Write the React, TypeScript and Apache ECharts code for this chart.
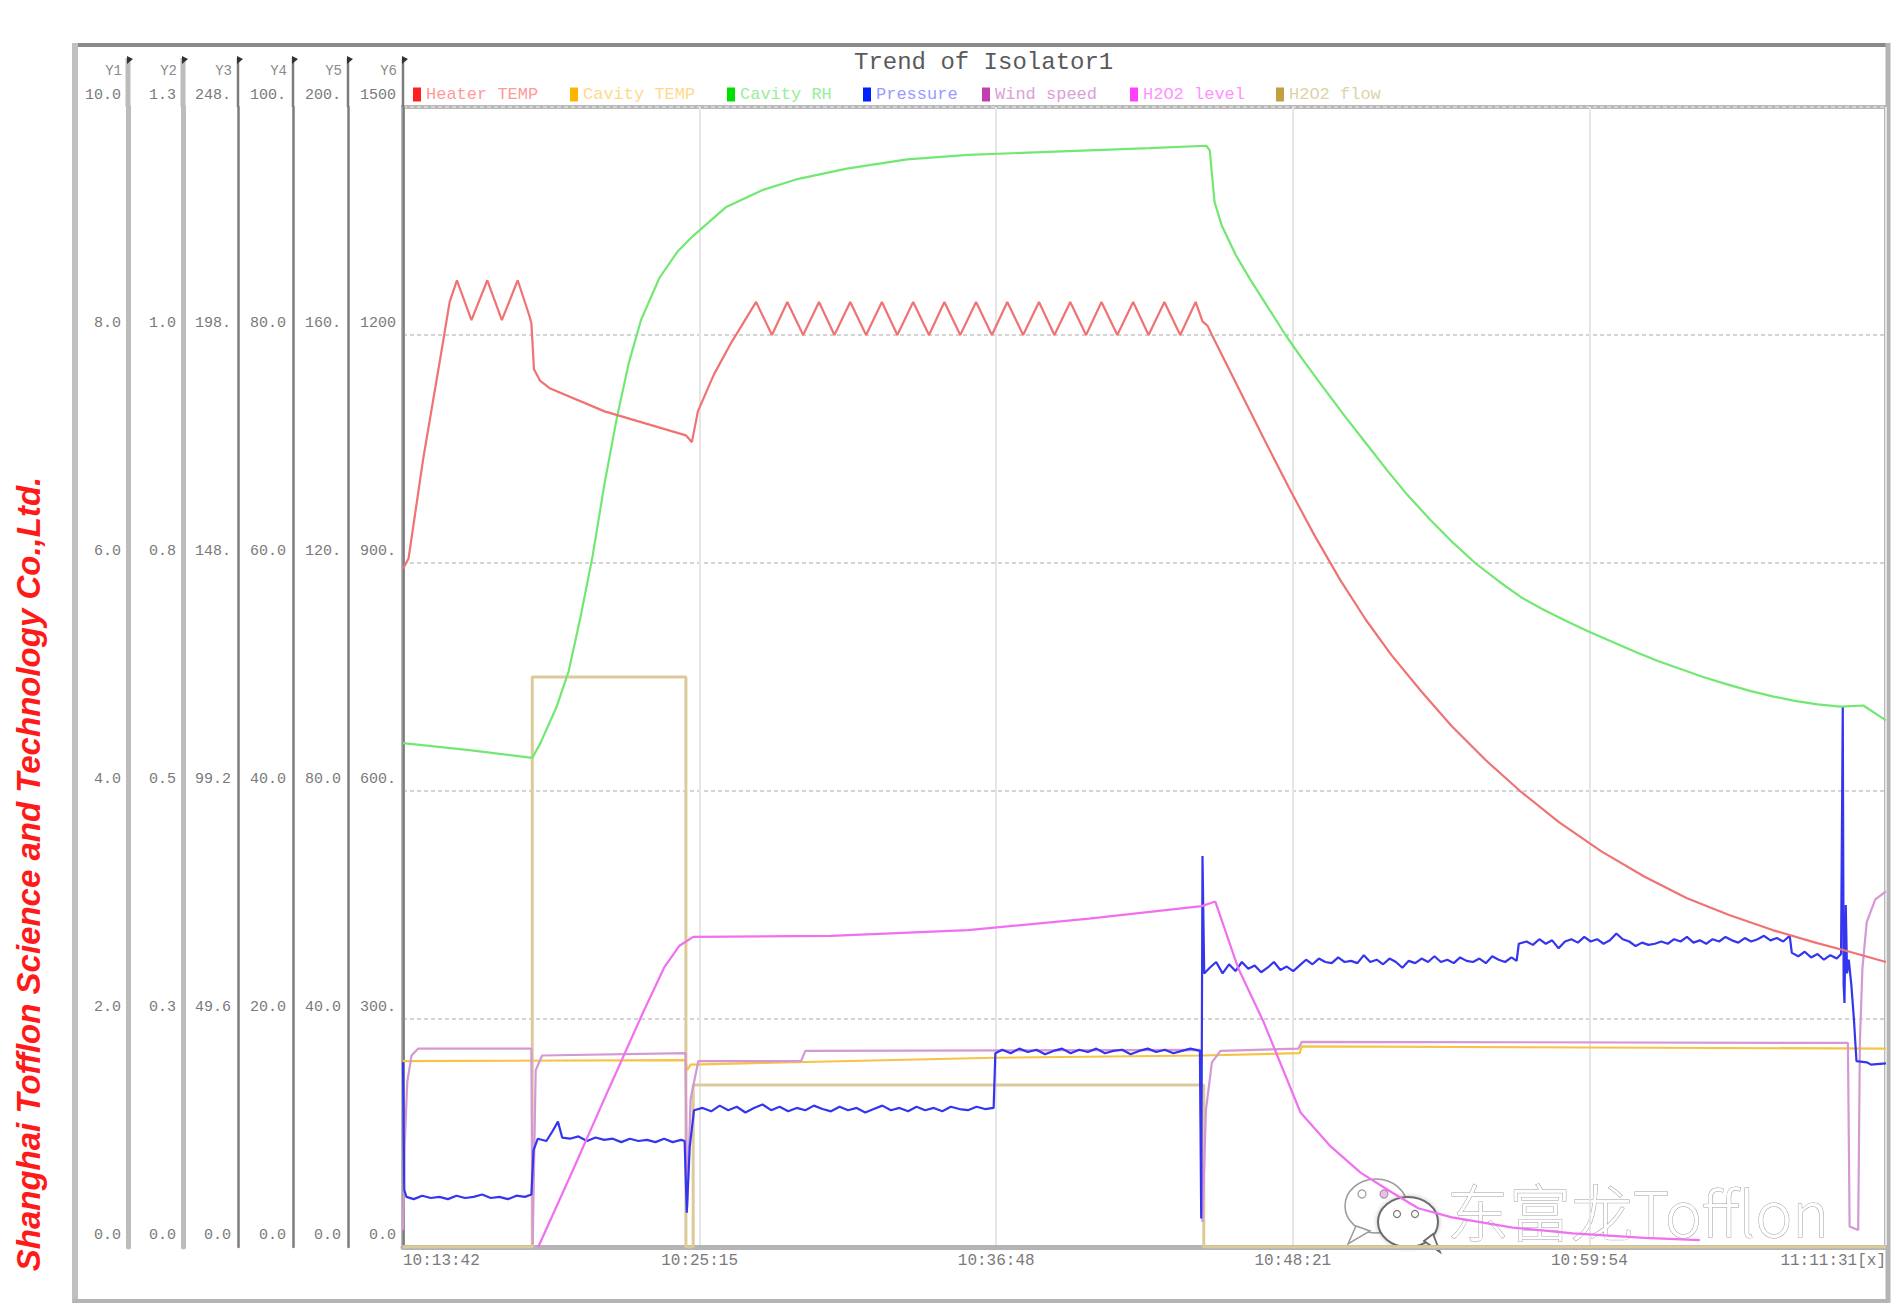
import React, { useEffect, useRef } from "react";
import * as echarts from "echarts";

// ---- axis definitions ----
const xLabels = ["10:13:42", "10:25:15", "10:36:48", "10:48:21", "10:59:54", "11:11:31[x]"];
const xStep = 693; // seconds between labels
const xMax = 3465;

const yNames = ["Y1", "Y2", "Y3", "Y4", "Y5", "Y6"];
const yMax = [10, 1.25, 248, 100, 200, 1500];
const yLabels = [
  ["0.0", "2.0", "4.0", "6.0", "8.0", "10.0"],
  ["0.0", "0.3", "0.5", "0.8", "1.0", "1.3"],
  ["0.0", "49.6", "99.2", "148.", "198.", "248."],
  ["0.0", "20.0", "40.0", "60.0", "80.0", "100."],
  ["0.0", "40.0", "80.0", "120.", "160.", "200."],
  ["0.0", "300.", "600.", "900.", "1200", "1500"],
];

// ---- series (time in s from 10:13:42, value in Y1 units) ----
const heaterTemp: [number, number][] = [
  [0, 5.95], [13, 6.04], [47, 6.91], [90, 7.86], [109, 8.29], [126, 8.48], [160, 8.13], [197, 8.48], [231, 8.13],
  [268, 8.48], [296, 8.16], [300, 8.1], [306, 7.7], [320, 7.6], [344, 7.53], [471, 7.33], [661, 7.12], [675, 7.06],
  [689, 7.33], [726, 7.65], [768, 7.94], [791, 8.08], [825, 8.29], [862, 8.0], [898, 8.29], [935, 8.0], [972, 8.29],
  [1008, 8.0], [1045, 8.29], [1082, 8.0], [1119, 8.29], [1155, 8.0], [1192, 8.29], [1229, 8.0], [1265, 8.29],
  [1302, 8.0], [1339, 8.29], [1376, 8.0], [1412, 8.29], [1449, 8.0], [1486, 8.29], [1522, 8.0], [1559, 8.29],
  [1596, 8.0], [1632, 8.29], [1669, 8.0], [1706, 8.29], [1742, 8.0], [1779, 8.29], [1816, 8.0], [1852, 8.29],
  [1868, 8.12], [1880, 8.08], [1890, 8.0], [1950, 7.55], [2010, 7.1], [2070, 6.66], [2130, 6.24], [2190, 5.85],
  [2250, 5.5], [2310, 5.19], [2380, 4.87], [2450, 4.57], [2530, 4.27], [2610, 4.0], [2700, 3.73], [2800, 3.47],
  [2900, 3.25], [3000, 3.06], [3100, 2.91], [3200, 2.78], [3300, 2.67], [3380, 2.59], [3465, 2.5],
];

const cavityTemp: [number, number][] = [
  [0, 1.63], [660, 1.64], [664, 1.55], [672, 1.6], [1382, 1.66], [1866, 1.68], [2095, 1.7], [2100, 1.76], [3465, 1.74],
];

const cavityRH: [number, number][] = [
  [0, 4.42], [150, 4.36], [302, 4.29], [321, 4.42], [358, 4.73], [387, 5.05], [415, 5.53], [443, 6.06], [471, 6.7],
  [500, 7.28], [528, 7.76], [556, 8.13], [599, 8.5], [641, 8.73], [678, 8.87], [754, 9.12], [839, 9.27], [924, 9.37],
  [1037, 9.46], [1178, 9.54], [1320, 9.58], [1461, 9.6], [1603, 9.62], [1744, 9.64], [1877, 9.66], [1885, 9.62],
  [1896, 9.17], [1913, 8.96], [1946, 8.7], [1979, 8.49], [2018, 8.26], [2062, 8.0], [2101, 7.79], [2150, 7.54],
  [2200, 7.29], [2250, 7.05], [2300, 6.81], [2346, 6.6], [2400, 6.38], [2450, 6.19], [2505, 6.0], [2560, 5.84],
  [2612, 5.7], [2665, 5.59], [2719, 5.49], [2770, 5.4], [2825, 5.31], [2880, 5.22], [2932, 5.14], [2985, 5.07],
  [3038, 5.0], [3090, 4.94], [3145, 4.88], [3200, 4.83], [3252, 4.79], [3305, 4.76], [3358, 4.74], [3412, 4.75],
  [3465, 4.62],
];

const pressure: [number, number][] = [
  [0, 1.62], [3, 0.5], [8, 0.44], [25, 0.42], [45, 0.45], [65, 0.43], [85, 0.44], [105, 0.42], [125, 0.45],
  [145, 0.43], [165, 0.44], [185, 0.46], [205, 0.43], [225, 0.44], [245, 0.42], [265, 0.45], [285, 0.44], [300, 0.46],
  [305, 0.85], [315, 0.95], [335, 0.93], [350, 1.02], [362, 1.1], [372, 0.96], [390, 0.95], [410, 0.97], [430, 0.93],
  [450, 0.96], [470, 0.94], [490, 0.95], [510, 0.92], [530, 0.95], [550, 0.93], [570, 0.94], [590, 0.92], [610, 0.95],
  [630, 0.92], [650, 0.94], [658, 0.93], [663, 0.3], [670, 0.88], [680, 1.2], [700, 1.22], [720, 1.19], [740, 1.24],
  [760, 1.2], [780, 1.23], [800, 1.18], [820, 1.22], [840, 1.25], [860, 1.2], [880, 1.23], [900, 1.19], [920, 1.22],
  [940, 1.2], [960, 1.24], [980, 1.21], [1000, 1.19], [1020, 1.23], [1040, 1.2], [1060, 1.22], [1080, 1.18],
  [1100, 1.21], [1120, 1.24], [1140, 1.2], [1160, 1.22], [1180, 1.19], [1200, 1.23], [1220, 1.2], [1240, 1.22],
  [1260, 1.19], [1280, 1.23], [1300, 1.21], [1320, 1.2], [1340, 1.23], [1360, 1.21], [1380, 1.22],
  [1384, 1.7], [1400, 1.73], [1420, 1.7], [1440, 1.74], [1460, 1.71], [1480, 1.73], [1500, 1.69], [1520, 1.72],
  [1540, 1.74], [1560, 1.7], [1580, 1.73], [1600, 1.71], [1620, 1.74], [1640, 1.7], [1660, 1.72], [1680, 1.73],
  [1700, 1.69], [1720, 1.72], [1740, 1.74], [1760, 1.71], [1780, 1.73], [1800, 1.7], [1820, 1.72], [1840, 1.74],
  [1862, 1.72], [1865, 0.25], [1868, 3.43], [1872, 2.4], [1885, 2.45], [1900, 2.5], [1915, 2.4], [1930, 2.48],
  [1945, 2.42], [1960, 2.5], [1975, 2.44], [1990, 2.47], [2005, 2.41], [2020, 2.45], [2035, 2.5], [2050, 2.43],
  [2065, 2.46], [2080, 2.42], [2095, 2.47], [2110, 2.52], [2125, 2.48], [2140, 2.53], [2155, 2.5], [2170, 2.49],
  [2185, 2.54], [2200, 2.5], [2215, 2.51], [2230, 2.49], [2245, 2.56], [2260, 2.5], [2275, 2.52], [2290, 2.48],
  [2305, 2.53], [2320, 2.5], [2335, 2.45], [2350, 2.51], [2365, 2.49], [2380, 2.53], [2395, 2.5], [2410, 2.55],
  [2425, 2.5], [2440, 2.52], [2455, 2.49], [2470, 2.54], [2485, 2.51], [2500, 2.5], [2515, 2.53], [2530, 2.49],
  [2545, 2.55], [2560, 2.52], [2575, 2.5], [2590, 2.54], [2602, 2.51], [2607, 2.66], [2625, 2.68], [2640, 2.65],
  [2655, 2.7], [2670, 2.66], [2685, 2.69], [2700, 2.62], [2715, 2.68], [2730, 2.7], [2745, 2.67], [2760, 2.72],
  [2775, 2.68], [2790, 2.7], [2805, 2.66], [2820, 2.69], [2835, 2.75], [2850, 2.7], [2865, 2.68], [2880, 2.64],
  [2895, 2.67], [2910, 2.65], [2925, 2.66], [2940, 2.68], [2955, 2.66], [2970, 2.7], [2985, 2.68], [3000, 2.72],
  [3015, 2.67], [3030, 2.69], [3045, 2.66], [3060, 2.7], [3075, 2.68], [3090, 2.72], [3105, 2.69], [3120, 2.67],
  [3135, 2.71], [3150, 2.68], [3165, 2.7], [3180, 2.73], [3195, 2.69], [3210, 2.71], [3225, 2.68], [3240, 2.73],
  [3245, 2.58], [3260, 2.55], [3275, 2.59], [3290, 2.54], [3305, 2.57], [3320, 2.52], [3335, 2.56], [3350, 2.53],
  [3360, 2.57], [3364, 4.74], [3366, 2.3], [3368, 2.14], [3371, 3.0], [3374, 2.4], [3378, 2.52], [3384, 2.3],
  [3390, 2.0], [3396, 1.63], [3420, 1.62], [3430, 1.6], [3465, 1.61],
];

const windSpeed: [number, number][] = [
  [0, 0.15], [4, 0.9], [10, 1.45], [20, 1.68], [35, 1.74], [300, 1.74], [303, 0.02], [310, 1.55], [325, 1.68],
  [660, 1.7], [664, 0.35], [672, 1.3], [690, 1.63], [930, 1.63], [940, 1.72], [1862, 1.73], [1868, 0.22],
  [1876, 1.2], [1890, 1.62], [1910, 1.72], [2092, 1.74], [2100, 1.8], [3376, 1.79], [3380, 0.18], [3400, 0.15],
  [3404, 1.8], [3410, 2.45], [3420, 2.85], [3440, 3.05], [3465, 3.12],
];

const h2o2Level: [number, number][] = [
  [316, 0], [400, 0.7], [480, 1.38], [560, 2.05], [610, 2.45], [645, 2.64], [678, 2.72], [1000, 2.73], [1320, 2.78],
  [1603, 2.88], [1866, 2.99], [1898, 3.03], [1951, 2.45], [2010, 1.98], [2097, 1.18], [2168, 0.88], [2238, 0.65],
  [2310, 0.48], [2372, 0.34], [2451, 0.26], [2593, 0.17], [2734, 0.12], [2900, 0.08], [3030, 0.06],
];

const h2o2Flow: [number, number][] = [
  [0, 0], [302, 0], [302, 5.0], [661, 5.0], [661, 0], [678, 0], [678, 1.42], [1871, 1.42], [1871, 0], [3465, 0],
];

const seriesNames = ["Heater TEMP", "Cavity TEMP", "Cavity RH", "Pressure", "Wind speed", "H2O2 level", "H2O2 flow"];
const iconColors = ["#ff2020", "#ffb400", "#00e000", "#0020ff", "#c040b0", "#ff40ff", "#c0a040"];
const textColors = ["#ff9a9a", "#ffd98a", "#99ee99", "#9a9aff", "#dba0d8", "#ff90ff", "#e0d2a8"];
const lineColors = ["#f07272", "#f5c445", "#72e872", "#3535f0", "#d498d4", "#f070f0", "#dccb98"];
const seriesData = [heaterTemp, cavityTemp, cavityRH, pressure, windSpeed, h2o2Level, h2o2Flow];
const drawOrder = [6, 1, 4, 3, 5, 2, 0];

// ---- layout ----
const GRID_LEFT = 403;
const GRID_TOP = 107;
const GRID_RIGHT = 10;
const GRID_BOTTOM = 61;
const yOffsets = [275, 220, 165, 110, 55, 0];
const legendLefts = [408, 565, 722, 858, 977, 1125, 1271];

export default function App() {
  const ref = useRef<HTMLDivElement>(null);
  useEffect(() => {
    const chart = echarts.init(ref.current!, null, { renderer: "svg" });
    const mono = '"Liberation Mono", "DejaVu Sans Mono", monospace';

    const yAxis = yNames.map((n, i) => ({
      type: "value",
      position: "left",
      offset: yOffsets[i],
      min: 0,
      max: yMax[i],
      interval: yMax[i] / 5,
      name: n,
      nameLocation: "end",
      nameGap: 36,
      nameTextStyle: { fontFamily: mono, fontSize: 14, color: "#8a8a8a", align: "right", verticalAlign: "middle", padding: [0, 6, 0, 0] },
      axisLine: {
        show: true,
        onZero: false,
        lineStyle: i < 2 ? { color: "#bcbcbc", width: 5 } : { color: "#7c7c7c", width: 2.5 },
      },
      axisTick: { show: false },
      axisLabel: {
        show: true,
        margin: 7,
        fontFamily: mono,
        fontSize: 15,
        color: "#7a7a7a",
        verticalAlign: "bottom",
        lineHeight: 24,
        formatter: (v: number) => yLabels[i][Math.round(v / (yMax[i] / 5))] ?? "",
      },
      splitLine: i === 0 ? { show: true, lineStyle: { color: "#d4d4d4", type: [4, 3], width: 2 } } : { show: false },
    }));

    const extGraphics: any[] = [];
    yOffsets.forEach((off, i) => {
      const x = GRID_LEFT - off;
      extGraphics.push({
        type: "line",
        shape: { x1: x, y1: 58, x2: x, y2: GRID_TOP },
        style: i < 2 ? { stroke: "#bcbcbc", lineWidth: 5 } : { stroke: "#7c7c7c", lineWidth: 2.5 },
        z: 10,
      });
      extGraphics.push({
        type: "polygon",
        shape: { points: [[x - 1, 56], [x + 5, 59], [x - 1, 64]] },
        style: { fill: "#333" },
        z: 11,
      });
    });

    const legends = seriesNames.map((n, i) => ({
      left: legendLefts[i],
      top: 81,
      itemWidth: 8,
      itemHeight: 14,
      itemGap: 0,
      icon: "rect",
      selectedMode: false,
      textStyle: { fontFamily: mono, fontSize: 17, color: textColors[i] },
      data: [{ name: n, itemStyle: { color: iconColors[i] } }],
    }));

    const option: any = {
      animation: false,
      backgroundColor: "#ffffff",
      title: {
        text: "Trend of Isolator1",
        left: 849,
        top: 45,
        textStyle: { fontFamily: mono, fontSize: 24, fontWeight: "normal", color: "#5a5a5a" },
      },
      legend: legends,
      grid: {
        left: GRID_LEFT,
        top: GRID_TOP,
        right: GRID_RIGHT,
        bottom: GRID_BOTTOM,
        show: true,
        borderColor: "#b8b8b8",
        borderWidth: 4,
        backgroundColor: "#ffffff",
      },
      xAxis: {
        type: "value",
        min: 0,
        max: xMax,
        interval: xStep,
        axisLine: { show: true, onZero: false, lineStyle: { color: "#b4b4b4", width: 5 } },
        axisTick: { show: false },
        axisLabel: {
          margin: 6,
          fontFamily: mono,
          fontSize: 16,
          color: "#7a7a7a",
          alignMinLabel: "left",
          alignMaxLabel: "right",
          formatter: (v: number) => xLabels[Math.round(v / xStep)] ?? "",
        },
        splitLine: { show: true, lineStyle: { color: "#e6e6e6", width: 2 } },
      },
      yAxis,
      series: drawOrder.map((i) => ({
        name: seriesNames[i],
        type: "line",
        yAxisIndex: 0,
        showSymbol: false,
        symbol: "none",
        data: seriesData[i],
        itemStyle: { color: iconColors[i] },
        lineStyle: { color: lineColors[i], width: i === 6 ? 3 : 2.2 },
        z: 2 + drawOrder.indexOf(i),
      })),
      graphic: [
        // outer frame
        { type: "line", shape: { x1: 73, y1: 45, x2: 1890, y2: 45 }, style: { stroke: "#8a8a8a", lineWidth: 4 } },
        { type: "line", shape: { x1: 75, y1: 43, x2: 75, y2: 1303 }, style: { stroke: "#c0c0c0", lineWidth: 6 } },
        { type: "line", shape: { x1: 1888, y1: 43, x2: 1888, y2: 1303 }, style: { stroke: "#b4b4b4", lineWidth: 5 } },
        { type: "line", shape: { x1: 73, y1: 1301, x2: 1890, y2: 1301 }, style: { stroke: "#b4b4b4", lineWidth: 4 } },
        ...extGraphics,
        // company text on the left
        {
          type: "text",
          x: 28,
          y: 874,
          rotation: Math.PI / 2,
          style: {
            text: "Shanghai Tofflon Science and Technology Co.,Ltd.",
            fill: "#ff1a1a",
            font: 'italic bold 33px "Liberation Sans", Arial, sans-serif',
            align: "center",
            verticalAlign: "middle",
          },
        },
        // watermark
        {
          type: "group",
          z: 50,
          children: [
            { type: "ellipse", shape: { cx: 1376, cy: 1206, rx: 31, ry: 27 }, style: { fill: "#ffffff", stroke: "#9a9a9a", lineWidth: 1.5 } },
            { type: "polygon", shape: { points: [[1356, 1226], [1348, 1244], [1370, 1231]] }, style: { fill: "#ffffff", stroke: "#9a9a9a", lineWidth: 1.5 } },
            { type: "circle", shape: { cx: 1362, cy: 1194, r: 4 }, style: { fill: "#ffffff", stroke: "#9a9a9a", lineWidth: 1.2 } },
            { type: "circle", shape: { cx: 1384, cy: 1194, r: 4 }, style: { fill: "#f3b8f0", stroke: "#9a9a9a", lineWidth: 1.2 } },
            { type: "ellipse", shape: { cx: 1408, cy: 1222, rx: 30, ry: 25 }, style: { fill: "#ffffff", stroke: "#6a6a6a", lineWidth: 2, shadowBlur: 4, shadowColor: "rgba(0,0,0,0.25)" } },
            { type: "polygon", shape: { points: [[1424, 1241], [1440, 1252], [1433, 1234]] }, style: { fill: "#ffffff", stroke: "#6a6a6a", lineWidth: 1.8 } },
            { type: "circle", shape: { cx: 1397, cy: 1214, r: 3.5 }, style: { fill: "#ffffff", stroke: "#777", lineWidth: 1.2 } },
            { type: "circle", shape: { cx: 1415, cy: 1214, r: 3.5 }, style: { fill: "#ffffff", stroke: "#777", lineWidth: 1.2 } },
            {
              type: "text",
              x: 1447,
              y: 1210,
              style: {
                text: "东富龙Tofflon",
                font: '300 62px "Noto Sans CJK SC", "Noto Sans", sans-serif',
                fill: "#ffffff",
                stroke: "#a0a0a0",
                lineWidth: 1,
                verticalAlign: "middle",
              },
            },
          ],
        },
      ],
    };

    chart.setOption(option);
    return () => chart.dispose();
  }, []);
  return (
    <div
      ref={ref}
      style={{ position: "fixed", left: 0, top: 0, width: 1896, height: 1308, background: "#ffffff" }}
    />
  );
}
